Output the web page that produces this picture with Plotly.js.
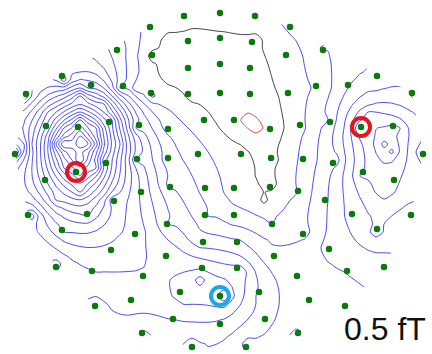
<!DOCTYPE html>
<html>
<head>
<meta charset="utf-8">
<script src="https://cdn.plot.ly/plotly-3.0.1.min.js"></script>
<style>
  html, body { margin: 0; padding: 0; background: #fff; }
  #map { width: 432px; height: 354px; }
</style>
</head>
<body>
<div id="map"></div>
<script>
// Sensor layout (x, y in layout units) and the field measured at each sensor,
// in contour steps (0 = zero line, negative = blue, positive = red).
const sensorX = [184,220,255,150,290,188,220,252,117,152,323,286,188,220,250,62,377,91,123,348,316,26,151,188,220,250,288,412,204,234,46,78,109,139,168,270,300,330,361,393,15,76,106,137,168,198,241,271,303,333,363,423,45,141,170,205,234,270,298,325,394,114,28,87,205,234,272,303,352,411,167,62,135,203,237,329,377,111,166,274,56,92,202,237,143,297,347,384,180,220,259,309,131,95,173,220,265,345,142,192,246,298];
const sensorY = [16,13,16,27,27,41,38,42,50,55,50,55,68,64,68,76,76,85,86,85,86,94,93,94,93,94,93,93,120,120,126,127,122,125,129,129,125,122,127,126,154,172,163,159,158,154,154,158,159,163,172,154,180,192,187,188,188,187,191,200,180,201,215,214,215,215,224,234,214,215,224,230,234,242,242,249,229,250,256,256,267,271,268,268,276,276,271,267,292,296,292,300,300,306,319,324,319,306,333,347,347,333];
const sensorField = [
  -0.5,-0.4,-0.5,-0.3,-1.3,0.4,0.2,0.3,-2.5,0.3,
  -2.0,-0.1,0.5,0.5,0.5,-3.5,-3.0,-7,-2.0,-3.2,
  -1.0,-3,0.2,0.3,0.6,0.6,-0.2,-3.7,-0.2,0.9,
  -11.5,-18.5,-11,-4,-1.5,0.9,-0.9,-2.0,-7.1,-7.3,
  -3,-17,-12.5,-5,-2.3,-1.3,-0.4,0.4,-1.3,-2.5,
  -6,-3.8,-11,-5.5,-2.8,-1.5,-0.5,0.3,-0.9,-3,
  -6.3,-7.5,-4.5,-10,-2,-1.2,-1.0,-1.5,-4.5,-4.2,
  -4,-8,-6.8,-3,-3,-3.5,-5.5,-6.8,-6,-2,
  -4.5,-6,-6.3,-6,-6,-2.2,-3,-3.5,-6.8,-8,
  -4,-2.2,-5.5,-4.5,-5,-4.5,-3.5,-2,-3.5,-3.5,
  -2.5,-1.5];

// Additional field readings between sensors
const mapX = [76,67,85,76,76,58,46,34,24,94,118,128,76,76,76,76,76,50,102,60,94,60,92,76,56,100,70,66,40,80,248,258,265,265,265,382,388,345,352,365,365,365,372,400,408,415,375,385,400,200,165,165,140,138];
const mapY = [146,146,146,134,159,146,146,146,146,146,146,146,120,108,96,84,70,108,104,124,126,168,168,190,196,192,210,245,250,290,117,124,172,198,210,140,152,127,127,88,100,110,118,126,140,150,170,190,200,283,40,75,55,85];
const mapField = [-20.6,-20,-20,-20,-20,-17,-13,-9,-6,-17.5,-10,-7.5,-17,-14,-11,-8,-5,-10,-10,-16,-16,-16,-16,-14,-11,-10.5,-10.5,-6.5,-5,-5.3,1.4,1.4,0.35,0.2,-0.3,-8.3,-8.2,-4,-5.2,-3.8,-4.8,-6,-7,-7,-6,-5,-7,-6.8,-5.5,-7.5,0.3,0.5,-0.4,-0.4];

// Sensors at the field extrema
const peakX = [76, 361];
const peakY = [172, 127];
const dipX = [220];
const dipY = [296];

const scaleLabel = '0.5 fT';

// Regular grid; every reading is placed on its nearest node and
// Plotly fills the rest (connectgaps).
const STEP = 8, W = 432, H = 354;
const gx = [], gy = [];
for (let x = 0; x <= W + STEP; x += STEP) gx.push(x);
for (let y = 0; y <= H + STEP; y += STEP) gy.push(y);
const gz = gy.map(() => gx.map(() => null));
function place(xs, ys, vs) {
  xs.forEach((x, i) => {
    gz[Math.round(ys[i] / STEP)][Math.round(x / STEP)] = vs[i];
  });
}
place(mapX, mapY, mapField);
place(sensorX, sensorY, sensorField);

// Convex hull of the sensor array: the field is only shown inside it.
function hull(px, py) {
  const pts = px.map((x, i) => [x, py[i]]).sort((a, b) => a[0] - b[0] || a[1] - b[1]);
  const cross = (o, a, b) => (a[0] - o[0]) * (b[1] - o[1]) - (a[1] - o[1]) * (b[0] - o[0]);
  const lower = [], upper = [];
  for (const p of pts) {
    while (lower.length >= 2 && cross(lower[lower.length - 2], lower[lower.length - 1], p) <= 0) lower.pop();
    lower.push(p);
  }
  for (let i = pts.length - 1; i >= 0; i--) {
    const p = pts[i];
    while (upper.length >= 2 && cross(upper[upper.length - 2], upper[upper.length - 1], p) <= 0) upper.pop();
    upper.push(p);
  }
  upper.pop(); lower.pop();
  return lower.concat(upper);
}
const area = pts => pts.reduce((s, p, i) => {
  const q = pts[(i + 1) % pts.length];
  return s + p[0] * q[1] - q[0] * p[1];
}, 0);

let h = hull(sensorX, sensorY);
const frame = [[-20, -20], [W + 20, -20], [W + 20, H + 20], [-20, H + 20]];
if (Math.sign(area(h)) === Math.sign(area(frame))) h = h.slice().reverse();
// Keyhole polygon: white frame with the hull cut out
const maskPts = frame.concat([[-20, -20]], h, [h[0]], [[-20, -20]]);

const traces = [
  {
    type: 'contour',
    x: gx, y: gy, z: gz,
    connectgaps: true,
    zauto: false, zmin: -30, zmax: 1,
    autocontour: false,
    contours: { start: -30, end: 1, size: 1, coloring: 'lines' },
    colorscale: [[0, '#4d4df0'], [0.95, '#4d4df0'], [0.955, '#444444'], [0.98, '#444444'], [0.985, '#ec4a4a'], [1, '#ec4a4a']],
    line: { width: 1, smoothing: 0.8 },
    showscale: false,
    hoverinfo: 'skip'
  },
  {
    type: 'scatter', mode: 'none', fill: 'toself', fillcolor: '#ffffff',
    x: maskPts.map(p => p[0]), y: maskPts.map(p => p[1]),
    hoverinfo: 'skip'
  },
  {
    type: 'scatter', mode: 'markers',
    x: sensorX, y: sensorY,
    marker: { size: 6.5, color: '#0a7a0a' }
  },
  {
    type: 'scatter', mode: 'markers',
    x: peakX, y: peakY,
    marker: { symbol: 'circle-open', size: 18, color: '#e8141a', line: { width: 4, color: '#e8141a' } }
  },
  {
    type: 'scatter', mode: 'markers',
    x: dipX, y: dipY,
    marker: { symbol: 'circle-open', size: 18, color: '#1aa8e6', line: { width: 4, color: '#1aa8e6' } }
  }
];

const layout = {
  width: W, height: H,
  margin: { l: 0, r: 0, t: 0, b: 0 },
  paper_bgcolor: '#ffffff', plot_bgcolor: '#ffffff',
  showlegend: false,
  xaxis: { range: [0, W], visible: false, fixedrange: true },
  yaxis: { range: [H, 0], visible: false, fixedrange: true },
  annotations: [{
    text: scaleLabel, xref: 'paper', yref: 'paper', x: 0.99, y: 0.015,
    xanchor: 'right', yanchor: 'bottom', showarrow: false,
    font: { family: 'Liberation Sans, Arial, sans-serif', size: 32, color: '#111' }
  }]
};

Plotly.newPlot('map', traces, layout, { staticPlot: true });
</script>
</body>
</html>
